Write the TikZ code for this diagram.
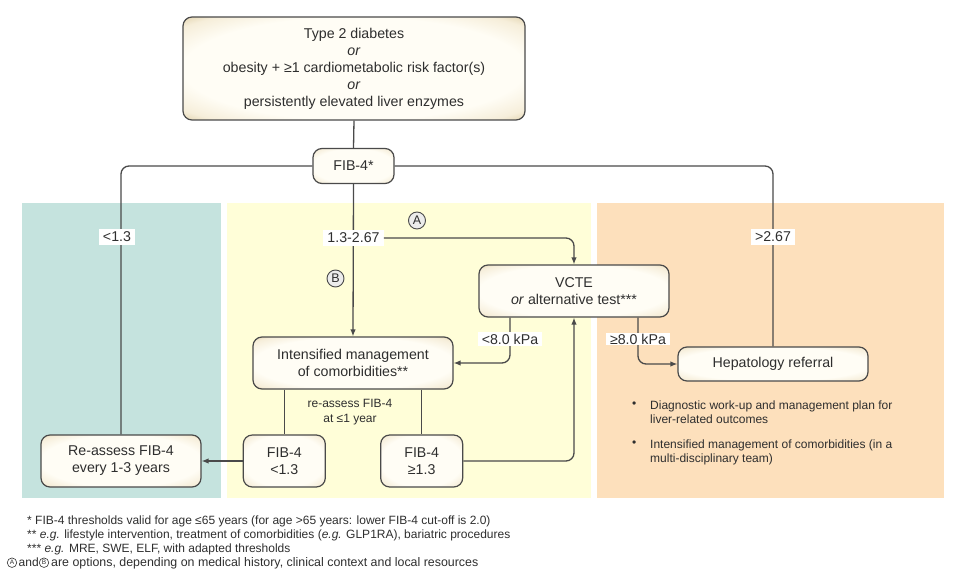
\documentclass[tikz,border=0pt]{standalone}
\usepackage{fontspec}
\setmainfont{Liberation Sans}
\usetikzlibrary{arrows.meta}
\definecolor{boxin}{HTML}{FFFDF5}
\definecolor{boxmid}{HTML}{F6EEDA}
\definecolor{boxout}{HTML}{E3D5B2}
\definecolor{linec}{HTML}{4A4A4A}
\definecolor{txt}{HTML}{2E2E2E}
\definecolor{panteal}{HTML}{C5E3DE}
\definecolor{panyel}{HTML}{FFFED8}
\definecolor{panpeach}{HTML}{FDE0BC}
\definecolor{circfill}{HTML}{ECECEC}
\pgfdeclareradialshading{boxshade}{\pgfpoint{0bp}{0bp}}{color(0bp)=(boxin); color(25bp)=(boxin); color(32bp)=(boxmid); color(35.4bp)=(boxout); color(50bp)=(boxout)}
\begin{document}
\begin{tikzpicture}[x=1pt,y=-1pt,
  mainfont/.style={font=\fontsize{14.2}{17}\selectfont},
  smallfont/.style={font=\fontsize{12}{14.3}\selectfont},
  flowbox/.style={draw=linec, line width=1.2pt, rounded corners=9pt, shade, shading=boxshade,
    align=center, text=txt, mainfont, inner sep=0pt},
  lbl/.style={fill=white, text=txt, mainfont, inner xsep=4pt, inner ysep=3pt},
  conn/.style={draw=linec, line width=1.3pt, rounded corners=8pt},
  arr/.style={conn, -{Latex[length=7pt,width=5.5pt]}},
  opt/.style={circle, draw=linec, fill=circfill, line width=0.9pt, text=txt, inner sep=0pt,
    minimum size=17pt, font=\fontsize{12.5}{14}\selectfont},
  optsmall/.style={circle, draw=txt, line width=0.6pt, text=txt, inner sep=0pt,
    minimum size=9.5pt, font=\fontsize{6.5}{7}\selectfont},
  note/.style={text=txt, smallfont, inner sep=0pt, anchor=base west, align=left},
]
\useasboundingbox (0,0) rectangle (962,583);
% panels
\fill[panteal] (22,203) rectangle (221,498);
\fill[panyel] (227,203) rectangle (591,498);
\fill[panpeach] (597,203) rectangle (944,498);

% boxes
\node[flowbox, minimum width=342pt, minimum height=103pt] (top) at (354,68.5)
  {Type 2 diabetes\\ \textit{or}\\ obesity + ≥1 cardiometabolic risk factor(s)\\ \textit{or}\\ persistently elevated liver enzymes};
\node[flowbox, minimum width=81pt, minimum height=35pt] (fib) at (353.5,166) {FIB-4*};
\node[flowbox, minimum width=190pt, minimum height=52pt] (vcte) at (574,291) {VCTE\\ \textit{or} alternative test***};
\node[flowbox, minimum width=200pt, minimum height=52pt] (intens) at (353,363) {Intensified management\\ of comorbidities**};
\node[flowbox, minimum width=190pt, minimum height=34pt] (hep) at (773,364) {Hepatology referral};
\node[flowbox, minimum width=82pt, minimum height=52pt] (f1) at (284.3,461) {FIB-4\\ <1.3};
\node[flowbox, minimum width=82pt, minimum height=52pt] (f2) at (421.7,461) {FIB-4\\ ≥1.3};
\node[flowbox, minimum width=160pt, minimum height=52pt] (re) at (121,461) {Re-assess FIB-4\\ every 1-3 years};

% coordinates for labels
\coordinate (lt8pos) at (510,339);
\coordinate (ge8pos) at (638,339);

% connectors
\draw[conn] (top.south) -- (fib.north);
\draw[conn] (fib.west) -| (re.north);
\draw[conn] (fib.east) -| (hep.north);
\draw[arr] (fib.south) -- (intens.north);
\node[lbl] (l13) at (353.5,238) {1.3-2.67};
\draw[arr] (l13.east) -| (vcte.north);
\draw[arr] (lt8pos |- vcte.south) |- (intens.east);
\draw[arr] (ge8pos |- vcte.south) |- (hep.west);
\draw[arr] (f2.east) -| (vcte.south);
\draw[conn] (f1.north |- intens.south) -- (f1.north);
\draw[conn] (f2.north |- intens.south) -- (f2.north);
\draw[arr] (f1.west) -- (re.east);

% labels on lines
\node[lbl] (llow) at (117,237) {<1.3};
\node[lbl] (lhigh) at (773,237) {>2.67};
\node[lbl, inner ysep=1.5pt] (lt8) at (lt8pos) {<8.0 kPa};
\node[lbl, inner ysep=1pt] (ge8) at (ge8pos) {≥8.0 kPa};
\node[opt] (optA) at (417,220.5) {A};
\node[opt] (optB) at (335.5,278.5) {B};

% texts
\node[text=txt, smallfont, align=center, inner sep=0pt] (reas) at (350,412) {re-assess FIB-4\\ at ≤1 year};
\node[note] (b1) at (632,407.5) {•};
\node[note] (t1) at (650,423.8) {Diagnostic work-up and management plan for\\ liver-related outcomes};
\node[note] (b2) at (632,446) {•};
\node[note] (t2) at (650,462.3) {Intensified management of comorbidities (in a\\ multi-disciplinary team)};

% footnotes
\node[note] (fn1) at (27,524) {* FIB-4 thresholds valid for age ≤65 years (for age >65 years: lower FIB-4 cut-off is 2.0)};
\node[note] (fn2) at (27,538.3) {** \textit{e.g.} lifestyle intervention, treatment of comorbidities (\textit{e.g.} GLP1RA), bariatric procedures};
\node[note] (fn3) at (27,552.5) {*** \textit{e.g.} MRE, SWE, ELF, with adapted thresholds};
\node[optsmall] (fa) at (12,562.7) {A};
\node[note] (fn4a) at (18.5,566.8) {and};
\node[optsmall] (fb) at (44,562.7) {B};
\node[note, font=\fontsize{12.4}{14.3}\selectfont] (fn4b) at (51,566.8) {are options, depending on medical history, clinical context and local resources};
\end{tikzpicture}
\end{document}
